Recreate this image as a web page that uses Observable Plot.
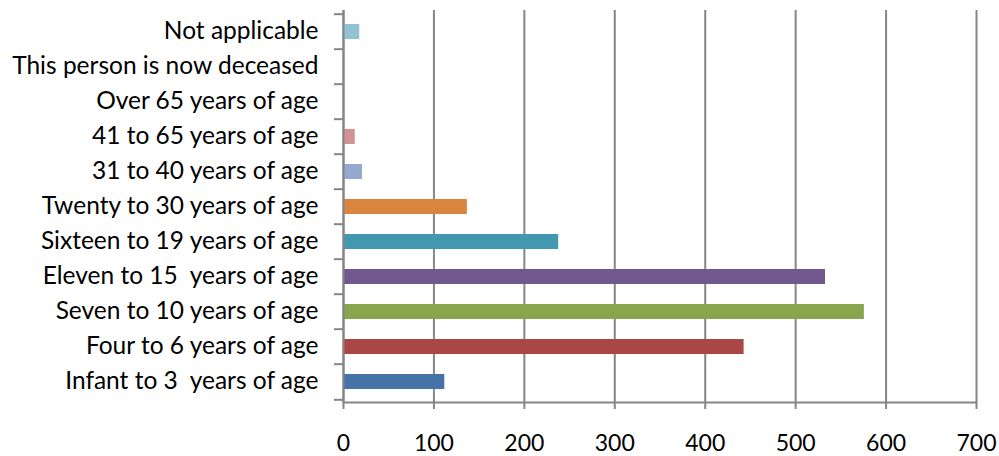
<!DOCTYPE html>
<html>
<head>
<meta charset="utf-8">
<script src="https://cdn.jsdelivr.net/npm/d3@7"></script>
<script src="https://cdn.jsdelivr.net/npm/@observablehq/plot@0.6"></script>
<style>
  html, body { margin: 0; padding: 0; background: #fff; }
  #chart svg { display: block; }
</style>
</head>
<body>
<div id="chart"></div>
<script>
const categories = [
  "Infant to 3  years of age",
  "Four to 6 years of age",
  "Seven to 10 years of age",
  "Eleven to 15  years of age",
  "Sixteen to 19 years of age",
  "Twenty to 30 years of age",
  "31 to 40 years of age",
  "41 to 65 years of age",
  "Over 65 years of age",
  "This person is now deceased",
  "Not applicable"
];
const values = [112, 443, 576, 533, 238, 137, 21, 13, 0, 0, 18];
const colors = ["#4572A7", "#AA4643", "#89A54E", "#71588F", "#4198AF", "#DB843D",
                "#93A9CF", "#D19392", "#B9CD96", "#A99BBD", "#92C3D4"];
const xTicks = [0, 100, 200, 300, 400, 500, 600, 700];

const data = categories.map((c, i) => ({category: c, value: values[i], color: colors[i]}));

const W = 999, H = 456, mT = 10, mB = 54, mL = 343, mR = 23;
const step = (H - mT - mB) / categories.length;
const axisColor = "#868686";
const font = "Lato, 'Open Sans', sans-serif";

const chart = Plot.plot({
  width: W,
  height: H,
  marginTop: mT,
  marginBottom: mB,
  marginLeft: mL,
  marginRight: mR,
  style: {fontFamily: font, fontSize: "22px", color: "#000", background: "#fff"},
  x: {domain: [0, 700], ticks: xTicks},
  y: {domain: categories.slice().reverse(), paddingInner: 0.58, paddingOuter: 0.29, label: null},
  marks: [
    Plot.gridX(xTicks, {stroke: axisColor, strokeOpacity: 1, strokeWidth: 2}),
    Plot.barX(data, {x: "value", y: "category", fill: "color"}),
    Plot.ruleX([0], {stroke: axisColor, strokeWidth: 2}),
    Plot.frame({anchor: "bottom", stroke: axisColor, strokeWidth: 2}),
    Plot.ruleY(categories, {y: d => d, x1: -10, x2: 0, dy: -step / 2, stroke: axisColor, strokeWidth: 2}),
    Plot.ruleY(categories.slice(0, 1), {y: d => d, x1: -10, x2: 0, dy: step / 2, stroke: axisColor, strokeWidth: 2}),
    Plot.axisX(xTicks, {tickSize: 7, tickPadding: 25, stroke: axisColor, strokeWidth: 2, fill: "#000", fontSize: 23, label: null}),
    Plot.axisY({tickSize: 0, tickPadding: 25, fill: "#000", fontSize: 24.5, dy: -1, label: null})
  ]
});
document.getElementById("chart").appendChild(chart);
</script>
</body>
</html>
